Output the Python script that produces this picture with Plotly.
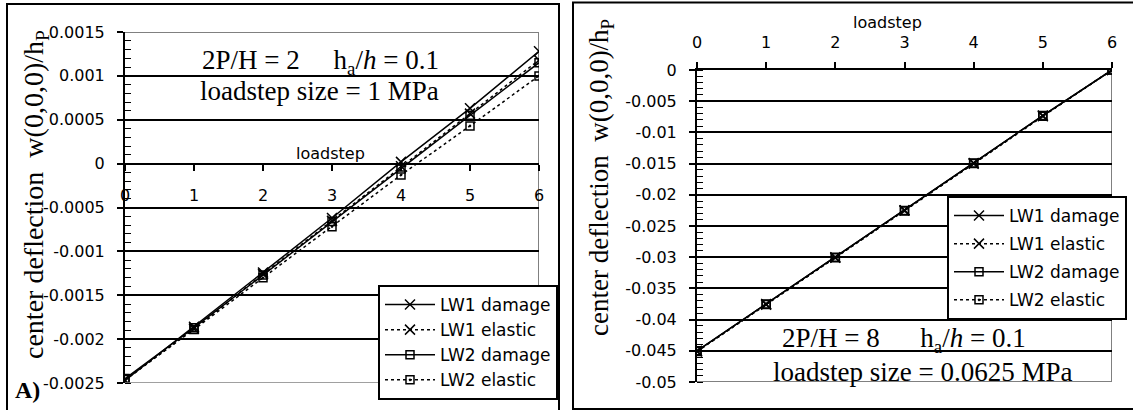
import plotly.graph_objects as go

W, H = 1133, 410

# ---------------- data ----------------
loadsteps = [0, 1, 2, 3, 4, 5, 6]
series_names = ["LW1 damage", "LW1 elastic", "LW2 damage", "LW2 elastic"]

# Panel A: 2P/H = 2, loadstep size = 1 MPa
a_lw1_damage = [-0.00247, -0.00186, -0.00124, -0.00062, 0.00002, 0.00063, 0.00128]
a_lw1_elastic = [-0.00247, -0.00188, -0.00126, -0.00065, -0.00003, 0.00057, 0.00118]
a_lw2_damage = [-0.00245, -0.00187, -0.00127, -0.00066, -0.00006, 0.00055, 0.00115]
a_lw2_elastic = [-0.00246, -0.00189, -0.00130, -0.00072, -0.00013, 0.00043, 0.00100]

# Panel B: 2P/H = 8, loadstep size = 0.0625 MPa
b_lw1_damage = [-0.0450, -0.0375, -0.0300, -0.0225, -0.0149, -0.0073, 0.0]
b_lw1_elastic = [-0.0451, -0.0376, -0.0301, -0.0225, -0.0150, -0.0074, 0.0]
b_lw2_damage = [-0.0450, -0.0375, -0.0300, -0.0225, -0.0149, -0.0073, 0.0]
b_lw2_elastic = [-0.0451, -0.0376, -0.0301, -0.0226, -0.0150, -0.0074, 0.0]

x_ticks = [0, 1, 2, 3, 4, 5, 6]
x_ticklabels = ["0", "1", "2", "3", "4", "5", "6"]
a_yticks = [0.0015, 0.001, 0.0005, 0, -0.0005, -0.001, -0.0015, -0.002, -0.0025]
a_yticklabels = ["0.0015", "0.001", "0.0005", "0", "-0.0005", "-0.001", "-0.0015", "-0.002", "-0.0025"]
b_yticks = [0, -0.005, -0.01, -0.015, -0.02, -0.025, -0.03, -0.035, -0.04, -0.045, -0.05]
b_yticklabels = ["0", "-0.005", "-0.01", "-0.015", "-0.02", "-0.025", "-0.03", "-0.035", "-0.04", "-0.045", "-0.05"]

a_yrange = [-0.0025, 0.0015]
b_yrange = [-0.05, 0.0]
x_range = [0, 6]

ytitle = "center deflection\u00a0\u00a0w(0,0,0)/h<sub>P</sub>"
a_text1 = "2P/H = 2" + "\u00a0" * 5 + "h<sub>a</sub>/<i>h</i> = 0.1"
a_text2 = "loadstep size = 1 MPa"
b_text1 = "2P/H = 8" + "\u00a0" * 6 + "h<sub>a</sub>/<i>h</i> = 0.1"
b_text2 = "loadstep size = 0.0625 MPa"
panel_label = "<b>A)</b>"

# ---------------- styling ----------------
SANS = "DejaVu Sans"
SERIF = "Liberation Serif"
styles = [
    dict(dash="solid", symbol="x-thin", size=10),
    dict(dash="dot", symbol="x-thin", size=10),
    dict(dash="solid", symbol="square-open", size=8),
    dict(dash="dot", symbol="square-open-dot", size=8),
]


def px_x(p):
    return p / W


def px_y(p):
    return 1 - p / H


a_xdom = [px_x(125), px_x(539)]
a_ydom = [px_y(383), px_y(32)]
b_xdom = [px_x(697), px_x(1112)]
b_ydom = [px_y(382), px_y(70)]

fig = go.Figure()

a_data = [a_lw1_damage, a_lw1_elastic, a_lw2_damage, a_lw2_elastic]
b_data = [b_lw1_damage, b_lw1_elastic, b_lw2_damage, b_lw2_elastic]

for name, ys, st in zip(series_names, a_data, styles):
    fig.add_trace(go.Scatter(
        x=loadsteps, y=ys, name=name, mode="lines+markers",
        xaxis="x", yaxis="y", legend="legend",
        line=dict(color="black", width=1.5, dash=st["dash"]),
        marker=dict(symbol=st["symbol"], size=st["size"], color="black",
                    line=dict(color="black", width=1.5)),
    ))
for i, (name, ys, st) in enumerate(zip(series_names, b_data, styles)):
    fig.add_trace(go.Scatter(
        x=loadsteps, y=ys, name=name, mode="lines+markers",
        xaxis="x2", yaxis="y2", legend="legend2", legendgroup="b%d" % i,
        line=dict(color="black", width=1.5, dash=st["dash"]),
        marker=dict(symbol=st["symbol"], size=st["size"], color="black",
                    line=dict(color="black", width=1.5)),
    ))

tickfont = dict(family=SANS, size=16, color="black")

# position of x axis at y = 0 in panel A (paper coordinate)
a_x_pos = a_ydom[0] + (0 - a_yrange[0]) / (a_yrange[1] - a_yrange[0]) * (a_ydom[1] - a_ydom[0])

common_y = dict(showgrid=True, gridcolor="black", gridwidth=1.5, zeroline=False,
                showline=True, linecolor="black", linewidth=2,
                ticks="outside", ticklen=6, tickwidth=1.5, tickcolor="black",
                tickfont=tickfont, tickmode="array", ticklabelstandoff=9)

fig.update_layout(
    width=W, height=H,
    margin=dict(l=0, r=0, t=0, b=0, autoexpand=False),
    paper_bgcolor="white", plot_bgcolor="white",
    showlegend=True,
    xaxis=dict(domain=a_xdom, range=x_range, anchor="free", position=a_x_pos,
               tickmode="array", tickvals=x_ticks, ticktext=x_ticklabels,
               showgrid=False, zeroline=False, showline=True, linecolor="black", linewidth=2,
               ticks="outside", ticklen=6, tickwidth=1.5, tickcolor="black",
               tickfont=tickfont, ticklabelstandoff=11),
    yaxis=dict(domain=a_ydom, range=a_yrange, anchor="x",
               tickvals=a_yticks, ticktext=a_yticklabels,
               minor=dict(ticks="inside", ticklen=6, tickwidth=1.2, tickcolor="black",
                          tickmode="linear", tick0=0, dtick=0.0001, showgrid=False),
               **common_y),
    yaxis3=dict(domain=a_ydom, range=a_yrange, anchor="x", overlaying="y",
                tickmode="array", tickvals=a_yticks, showticklabels=False,
                ticks="inside", ticklen=6, tickwidth=1.5, tickcolor="black",
                showgrid=False, zeroline=False, showline=False),
    xaxis2=dict(domain=b_xdom, range=x_range, anchor="y2", side="top",
                tickmode="array", tickvals=x_ticks, ticktext=x_ticklabels,
                showgrid=False, zeroline=False, showline=True, linecolor="black", linewidth=2,
                ticks="outside", ticklen=6, tickwidth=1.5, tickcolor="black",
                tickfont=tickfont, ticklabelstandoff=8),
    xaxis4=dict(domain=b_xdom, range=x_range, anchor="y2", side="top", overlaying="x2",
                tickmode="array", tickvals=x_ticks, showticklabels=False,
                ticks="inside", ticklen=6, tickwidth=1.5, tickcolor="black",
                showgrid=False, zeroline=False, showline=False),
    yaxis2=dict(domain=b_ydom, range=b_yrange, anchor="x2",
                tickvals=b_yticks, ticktext=b_yticklabels,
                minor=dict(ticks="inside", ticklen=6, tickwidth=1.2, tickcolor="black",
                           tickmode="linear", tick0=0, dtick=0.001, showgrid=False),
                **common_y),
    yaxis4=dict(domain=b_ydom, range=b_yrange, anchor="x2", overlaying="y2",
                tickmode="array", tickvals=b_yticks, showticklabels=False,
                ticks="inside", ticklen=6, tickwidth=1.5, tickcolor="black",
                showgrid=False, zeroline=False, showline=False),
    legend=dict(x=px_x(378), y=px_y(285), xanchor="left", yanchor="top",
                bgcolor="white", bordercolor="black", borderwidth=2,
                font=dict(family=SANS, size=17, color="black"), itemwidth=50),
    legend2=dict(x=px_x(947), y=px_y(196), xanchor="left", yanchor="top",
                 bgcolor="white", bordercolor="black", borderwidth=2,
                 font=dict(family=SANS, size=17, color="black"), itemwidth=50,
                 tracegroupgap=3, traceorder="grouped"),
)

# plot-area frames (grey) and panel borders (black)
GREY = "#808080"
shapes = [
    # panel A frame: top, right, bottom in grey
    dict(type="line", xref="x", yref="y", x0=x_range[0], x1=x_range[1], y0=a_yrange[1], y1=a_yrange[1],
         line=dict(color=GREY, width=2), layer="above"),
    dict(type="line", xref="x", yref="y", x0=x_range[1], x1=x_range[1], y0=a_yrange[0], y1=a_yrange[1],
         line=dict(color=GREY, width=2), layer="below"),
    dict(type="line", xref="x", yref="y", x0=x_range[0], x1=x_range[1], y0=a_yrange[0], y1=a_yrange[0],
         line=dict(color=GREY, width=1.5), layer="above"),
    # panel B frame: right, bottom in grey
    dict(type="line", xref="x2", yref="y2", x0=x_range[1], x1=x_range[1], y0=b_yrange[0], y1=b_yrange[1],
         line=dict(color=GREY, width=2), layer="below"),
    dict(type="line", xref="x2", yref="y2", x0=x_range[0], x1=x_range[1], y0=b_yrange[0], y1=b_yrange[0],
         line=dict(color=GREY, width=2), layer="above"),
    # outer panel borders
    dict(type="rect", xref="paper", yref="paper", x0=px_x(7), x1=px_x(559),
         y0=-0.05, y1=px_y(4), line=dict(color="black", width=2), layer="below"),
    dict(type="rect", xref="paper", yref="paper", x0=px_x(573), x1=1.05,
         y0=px_y(409), y1=px_y(2.5), line=dict(color="black", width=2), layer="below"),
]
fig.update_layout(shapes=shapes)

serif_font = dict(family=SERIF, size=27, color="black")
ann = [
    dict(text=a_text1, x=px_x(320), y=px_y(62), font=serif_font),
    dict(text=a_text2, x=px_x(319), y=px_y(91), font=serif_font),
    dict(text=b_text1, x=px_x(904), y=px_y(340), font=serif_font),
    dict(text=b_text2, x=px_x(922), y=px_y(372), font=serif_font),
    dict(text="loadstep", x=px_x(330), y=px_y(153), font=dict(family=SANS, size=16, color="black")),
    dict(text="loadstep", x=px_x(887), y=px_y(22), font=dict(family=SANS, size=16, color="black")),
    dict(text=ytitle, x=px_x(35), y=px_y(195), textangle=-90, font=dict(family=SERIF, size=28, color="black")),
    dict(text=ytitle, x=px_x(601), y=px_y(178), textangle=-90, font=dict(family=SERIF, size=27, color="black")),
    dict(text=panel_label, x=px_x(27), y=px_y(390), font=dict(family=SERIF, size=24, color="black")),
]
for a in ann:
    a.update(xref="paper", yref="paper", showarrow=False, xanchor="center", yanchor="middle")
fig.update_layout(annotations=ann)

fig.write_html("out.html")
